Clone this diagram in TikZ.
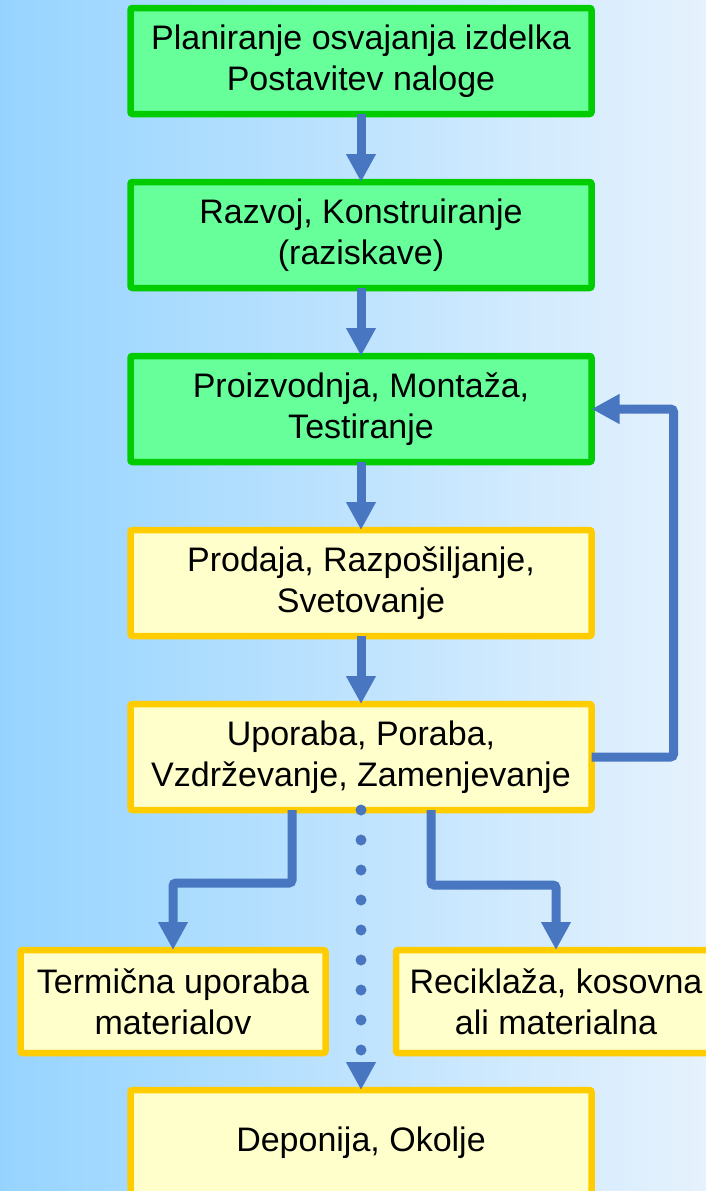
\documentclass[tikz,border=0pt]{standalone}
\usepackage{fontspec}
\setmainfont{Liberation Sans}
\usetikzlibrary{arrows.meta,positioning}

\definecolor{bgleft}{RGB}{150,212,255}
\definecolor{bgright}{RGB}{230,242,253}
\definecolor{devfill}{RGB}{102,255,153}
\definecolor{devdraw}{RGB}{0,204,0}
\definecolor{lifefill}{RGB}{255,255,204}
\definecolor{lifedraw}{RGB}{255,204,0}
\definecolor{flowblue}{RGB}{72,118,192}

\tikzset {
  stage node/.style = {
    rectangle,
    rounded corners = 2pt,
    line width = 6.5pt,
    minimum width = 461pt,
    minimum height = 106pt,
    inner sep = 0pt,
    outer sep = 0pt,
    align = center,
    font = \fontsize{34}{41}\selectfont
  },
  % stages before the product leaves the plant
  dev/.style = {
    stage node,
    draw = devdraw,
    fill = devfill
  },
  % stages of the product's life
  life/.style = {
    stage node,
    draw = lifedraw,
    fill = lifefill
  },
  node distance = 68pt
}
\tikzset {
  flow/.style = {
    draw = flowblue,
    line width = 9pt,
    rounded corners = 3pt,
    -{Triangle[width=28pt,length=28pt]}
  },
  % dotted path to the landfill
  dots/.style = {
    flow,
    rounded corners = 0pt,
    line width = 11pt,
    line cap = round,
    dash pattern = on 0pt off 30pt
  }
}

\begin{document}
\begin{tikzpicture}[x=1pt,y=1pt]
    \shade[left color=bgleft, right color=bgright] (0,0) rectangle (706,-1191);
    \useasboundingbox (0,0) rectangle (706,-1191);

    \node[dev] (plan) at (361,-61) {Planiranje osvajanja izdelka\\Postavitev naloge};
    \node[dev] (razvoj) [below=of plan] {Razvoj, Konstruiranje\\(raziskave)};
    \node[dev] (proizv) [below=of razvoj] {Proizvodnja, Montaža,\\Testiranje};
    \node[life] (prodaja) [below=of proizv] {Prodaja, Razpošiljanje,\\Svetovanje};
    \node[life] (uporaba) [below=of prodaja] {Uporaba, Poraba,\\Vzdrževanje, Zamenjevanje};

    \node[life, minimum width=305pt, minimum height=103pt] (termicna) at (173,-1001.5)
      {Termična uporaba\\materialov};
    \node[life, minimum width=320pt, minimum height=103pt] (reciklaza) at (556,-1001.5)
      {Reciklaža, kosovna\\ali materialna};

    \node[life] (deponija) [below=280pt of uporaba] {Deponija, Okolje};

    \coordinate (fork-left) at ([xshift=-69pt]uporaba.south);
    \coordinate (fork-right) at ([xshift=70pt]uporaba.south);

    % main line
    \draw[flow] (plan) -- (razvoj);
    \draw[flow] (razvoj) -- (proizv);
    \draw[flow] (proizv) -- (prodaja);
    \draw[flow] (prodaja) -- (uporaba);

    % loop back to production
    \draw[flow] (uporaba.east)
      -- ++(82,0)
      |- (proizv.east);

    % end of life
    \draw[flow] (fork-left)
      -- ++(0,-73)
      -| (termicna.north);

    \draw[flow] (fork-right)
      -- ++(0,-75)
      -| (reciklaza.north);

    \draw[dots] (uporaba.south) -- (deponija.north);
\end{tikzpicture}
\end{document}
